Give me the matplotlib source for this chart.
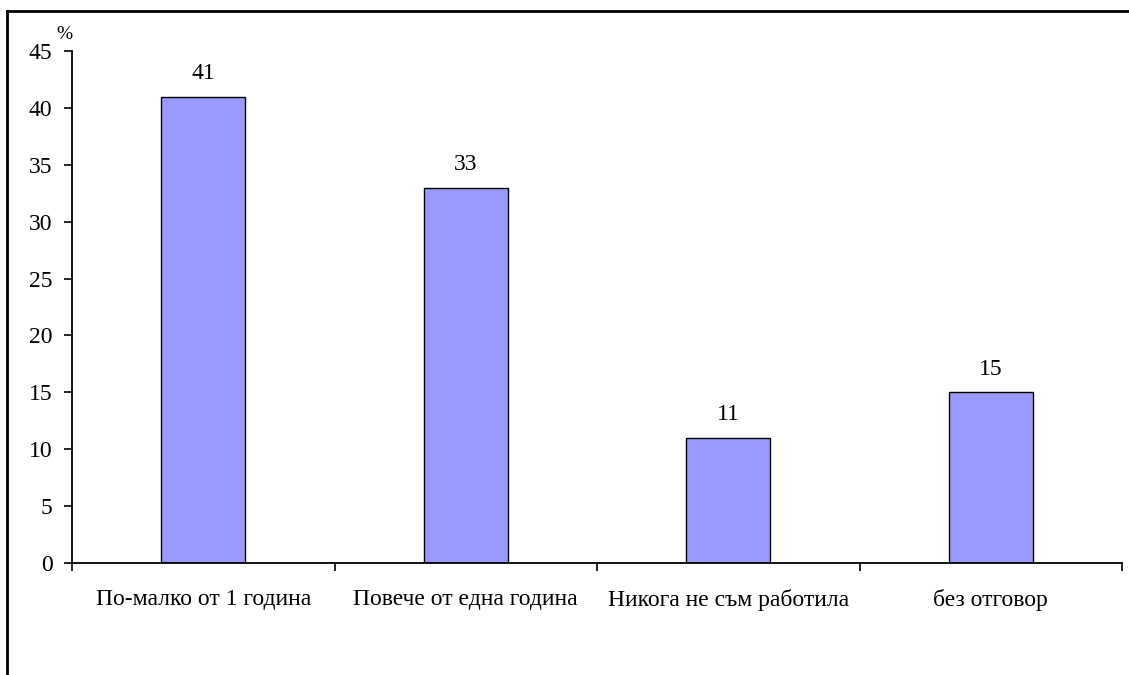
import matplotlib
matplotlib.use("Agg")
import matplotlib.pyplot as plt
from matplotlib.lines import Line2D
import numpy as np

categories = ["По-малко от 1 година", "Повече от една година", "Никога не съм работила", "без отговор"]
values = [41, 33, 11, 15]
yticks = [0, 5, 10, 15, 20, 25, 30, 35, 40, 45]

plt.rcParams['font.family'] = ['Liberation Serif', 'DejaVu Serif']

fig = plt.figure(figsize=(11.29, 6.75), dpi=100)
ax = fig.add_axes([72/1129, 1-563/675, (1122-72)/1129, (563-51)/675])

FS = 17
x = np.arange(len(categories))
bars = ax.bar(x, values, width=0.32, color="#9999FF", edgecolor="black", linewidth=1.0)
for xi, v in zip(x, values):
    ax.annotate(str(v), (xi, v), xytext=(0, 9), textcoords="offset points",
                ha="center", va="bottom", fontsize=FS)

ax.set_xlim(-0.5, len(categories) - 0.5)
ax.set_ylim(0, 45)
ax.set_yticks(yticks)
ax.set_yticklabels([str(t) for t in yticks], fontsize=FS)
ax.set_xticks(np.arange(len(categories) + 1) - 0.5)
ax.set_xticklabels([])
ax.set_xticks(x, minor=True)
ax.set_xticklabels(categories, minor=True, fontsize=FS)
ax.tick_params(axis='x', which='minor', length=0, pad=19)
ax.tick_params(axis='x', which='major', direction='out', length=6, width=1.2)
ax.tick_params(axis='y', direction='out', length=6, width=1.2, pad=8)
for s in ['top', 'right']:
    ax.spines[s].set_visible(False)
for s in ['left', 'bottom']:
    ax.spines[s].set_linewidth(1.3)

fig.text(64/1129, 1-43/675, "%", ha="center", va="bottom", fontsize=14)

# outer border (top and left visible)
fig.add_artist(Line2D([7/1129, 1], [1-11/675, 1-11/675], transform=fig.transFigure, color="black", linewidth=2))
fig.add_artist(Line2D([7/1129, 7/1129], [0, 1-11/675], transform=fig.transFigure, color="black", linewidth=2))

fig.savefig("out.png", dpi=100)
